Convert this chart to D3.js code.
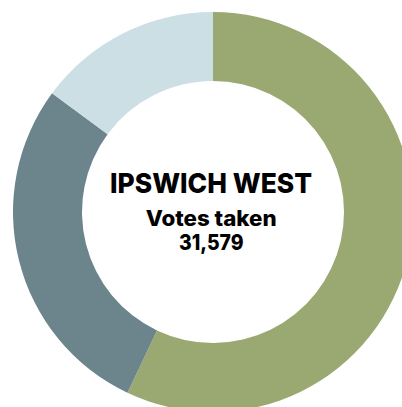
<!DOCTYPE html>
<html><head><meta charset="utf-8">
<script src="https://cdn.jsdelivr.net/npm/d3@7"></script>
<style>html,body{margin:0;padding:0;background:#fff;overflow:hidden}</style>
</head><body>
<svg id="chart" width="402" height="407"></svg>
<script>
const parties = ["Party A", "Party B", "Party C"];
const votes = [18010, 8868, 4701];
const colors = ["#9aa872", "#6c848b", "#cbdfe5"];
const title = "IPSWICH WEST";
const subtitle = "Votes taken";
const total = "31,579";

const svg = d3.select("#chart");
const cx = 213, cy = 212, rOuter = 200, rInner = 131;
const g = svg.append("g").attr("transform", `translate(${cx},${cy})`);
const pie = d3.pie().sort(null).value(d => d)(votes);
const arc = d3.arc().innerRadius(rInner).outerRadius(rOuter);
const color = d3.scaleOrdinal().domain(parties).range(colors);
g.selectAll("path").data(pie).join("path")
  .attr("d", arc).attr("fill", (d, i) => color(parties[i]));

const font = "Inter, 'Open Sans', sans-serif";
svg.append("text").attr("x", 211).attr("y", 192.7).attr("text-anchor", "middle")
  .attr("font-family", font).attr("font-weight", 800).attr("font-size", 27.5)
  .attr("textLength", 202).attr("lengthAdjust", "spacingAndGlyphs")
  .attr("fill", "#000").text(title);
svg.append("text").attr("x", 211.2).attr("y", 226).attr("text-anchor", "middle")
  .attr("font-family", font).attr("font-weight", 800).attr("font-size", 21)
  .attr("textLength", 131).attr("lengthAdjust", "spacingAndGlyphs")
  .attr("fill", "#000").text(subtitle);
svg.append("text").attr("x", 211.3).attr("y", 250).attr("text-anchor", "middle")
  .attr("font-family", font).attr("font-weight", 800).attr("font-size", 21.5)
  .attr("textLength", 64.7).attr("lengthAdjust", "spacingAndGlyphs")
  .attr("fill", "#000").text(total);
</script>
</body></html>
